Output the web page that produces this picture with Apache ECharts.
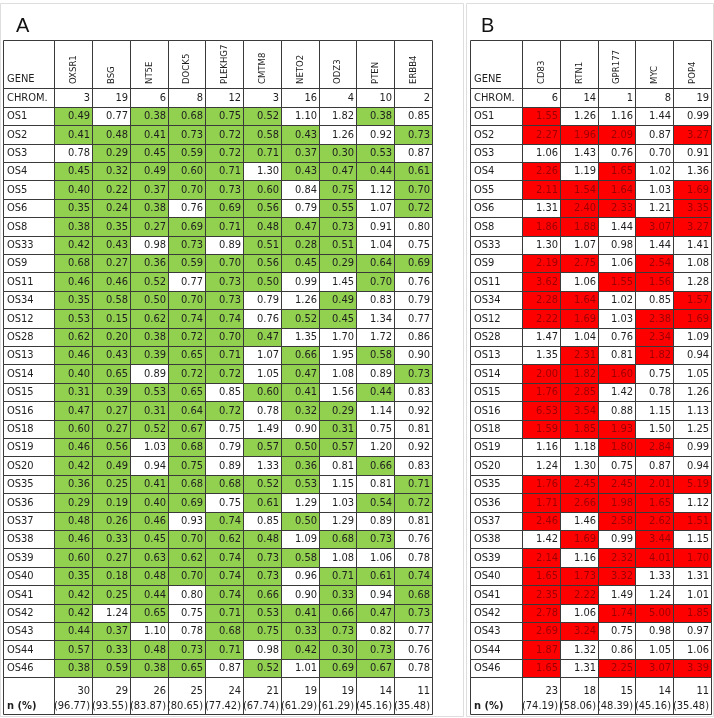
<!DOCTYPE html>
<html><head><meta charset="utf-8">
<script src="https://cdn.jsdelivr.net/npm/echarts@6/dist/echarts.min.js"></script>
<style>html,body{margin:0;padding:0;background:#fff}#c{width:714px;height:718px}</style>
</head><body><div id="c"></div>
<script>
// ---------------- DATA ----------------
const rowLabels = ['OS1','OS2','OS3','OS4','OS5','OS6','OS8','OS33','OS9','OS11','OS34','OS12','OS28','OS13','OS14','OS15','OS16','OS18','OS19','OS20','OS35','OS36','OS37','OS38','OS39','OS40','OS41','OS42','OS43','OS44','OS46'];

const genesA = ['OXSR1','BSG','NT5E','DOCK5','PLEKHG7','CMTM8','NETO2','ODZ3','PTEN','ERBB4'];
const chromA = [3,19,6,8,12,3,16,4,10,2];
const valuesA = [
 [0.49,0.77,0.38,0.68,0.75,0.52,1.10,1.82,0.38,0.85],
 [0.41,0.48,0.41,0.73,0.72,0.58,0.43,1.26,0.92,0.73],
 [0.78,0.29,0.45,0.59,0.72,0.71,0.37,0.30,0.53,0.87],
 [0.45,0.32,0.49,0.60,0.71,1.30,0.43,0.47,0.44,0.61],
 [0.40,0.22,0.37,0.70,0.73,0.60,0.84,0.75,1.12,0.70],
 [0.35,0.24,0.38,0.76,0.69,0.56,0.79,0.55,1.07,0.72],
 [0.38,0.35,0.27,0.69,0.71,0.48,0.47,0.73,0.91,0.80],
 [0.42,0.43,0.98,0.73,0.89,0.51,0.28,0.51,1.04,0.75],
 [0.68,0.27,0.36,0.59,0.70,0.56,0.45,0.29,0.64,0.69],
 [0.46,0.46,0.52,0.77,0.73,0.50,0.99,1.45,0.70,0.76],
 [0.35,0.58,0.50,0.70,0.73,0.79,1.26,0.49,0.83,0.79],
 [0.53,0.15,0.62,0.74,0.74,0.76,0.52,0.45,1.34,0.77],
 [0.62,0.20,0.38,0.72,0.70,0.47,1.35,1.70,1.72,0.86],
 [0.46,0.43,0.39,0.65,0.71,1.07,0.66,1.95,0.58,0.90],
 [0.40,0.65,0.89,0.72,0.72,1.05,0.47,1.08,0.89,0.73],
 [0.31,0.39,0.53,0.65,0.85,0.60,0.41,1.56,0.44,0.83],
 [0.47,0.27,0.31,0.64,0.72,0.78,0.32,0.29,1.14,0.92],
 [0.60,0.27,0.52,0.67,0.75,1.49,0.90,0.31,0.75,0.81],
 [0.46,0.56,1.03,0.68,0.79,0.57,0.50,0.57,1.20,0.92],
 [0.42,0.49,0.94,0.75,0.89,1.33,0.36,0.81,0.66,0.83],
 [0.36,0.25,0.41,0.68,0.68,0.52,0.53,1.15,0.81,0.71],
 [0.29,0.19,0.40,0.69,0.75,0.61,1.29,1.03,0.54,0.72],
 [0.48,0.26,0.46,0.93,0.74,0.85,0.50,1.29,0.89,0.81],
 [0.46,0.33,0.45,0.70,0.62,0.48,1.09,0.68,0.73,0.76],
 [0.60,0.27,0.63,0.62,0.74,0.73,0.58,1.08,1.06,0.78],
 [0.35,0.18,0.48,0.70,0.74,0.73,0.96,0.71,0.61,0.74],
 [0.42,0.25,0.44,0.80,0.74,0.66,0.90,0.33,0.94,0.68],
 [0.42,1.24,0.65,0.75,0.71,0.53,0.41,0.66,0.47,0.73],
 [0.44,0.37,1.10,0.78,0.68,0.75,0.33,0.73,0.82,0.77],
 [0.57,0.33,0.48,0.73,0.71,0.98,0.42,0.30,0.73,0.76],
 [0.38,0.59,0.38,0.65,0.87,0.52,1.01,0.69,0.67,0.78]
];
// 1 = highlighted (green) cell
const sigA = ['1011110010','1111111001','0111111110','1111101111','1111110101','1110110101','1111111100','1101011100','1111111111','1110110010','1111100100','1111101100','1111110000','1111101010','1101101001','1111011010','1111101100','1111000100','1101011100','1101001010','1111111001','1111010011','1110101000','1111110110','1111111000','1111110111','1110110101','1010111111','1100111100','1111101110','1111010110'];
const countA = [30,29,26,25,24,21,19,19,14,11];
const pctA = ['96.77','93.55','83.87','80.65','77.42','67.74','61.29','61.29','45.16','35.48'];

const genesB = ['CD83','RTN1','GPR177','MYC','POP4'];
const chromB = [6,14,1,8,19];
const valuesB = [
 [1.55,1.26,1.16,1.44,0.99],
 [2.27,1.96,2.09,0.87,3.27],
 [1.06,1.43,0.76,0.70,0.91],
 [2.26,1.19,1.65,1.02,1.36],
 [2.11,1.54,1.64,1.03,1.69],
 [1.31,2.40,2.33,1.21,3.35],
 [1.86,1.88,1.44,3.07,3.27],
 [1.30,1.07,0.98,1.44,1.41],
 [2.19,2.75,1.06,2.54,1.08],
 [3.62,1.06,1.55,1.56,1.28],
 [2.28,1.64,1.02,0.85,1.57],
 [2.22,1.69,1.03,2.38,1.69],
 [1.47,1.04,0.76,2.34,1.09],
 [1.35,2.31,0.81,1.82,0.94],
 [2.00,1.82,1.60,0.75,1.05],
 [1.76,2.85,1.42,0.78,1.26],
 [6.53,3.54,0.88,1.15,1.13],
 [1.59,1.85,1.93,1.50,1.25],
 [1.16,1.18,1.80,2.84,0.99],
 [1.24,1.30,0.75,0.87,0.94],
 [1.76,2.45,2.45,2.01,5.19],
 [1.71,2.66,1.98,1.65,1.12],
 [2.46,1.46,2.58,2.62,1.51],
 [1.42,1.69,0.99,3.44,1.15],
 [2.14,1.16,2.32,4.01,1.70],
 [1.65,1.73,3.32,1.33,1.31],
 [2.35,2.22,1.49,1.24,1.01],
 [2.78,1.06,1.74,5.00,1.85],
 [2.69,3.24,0.75,0.98,0.97],
 [1.87,1.32,0.86,1.05,1.06],
 [1.65,1.31,2.25,3.07,3.39]
];
// 1 = highlighted (red) cell
const sigB = ['10000','11101','00000','10100','11101','01101','11011','00000','11010','10110','11001','11011','00010','01010','11100','11000','11000','11100','00110','00000','11111','11110','10111','01010','10111','11100','11000','10111','11000','10000','10111'];
const countB = [23,18,15,14,11];
const pctB = ['74.19','58.06','48.39','45.16','35.48'];

// ---------------- STYLE / LAYOUT ----------------
const FONT = "'Liberation Sans Narrow','DejaVu Sans Condensed','Liberation Sans',sans-serif";
const LINE = '#3a3a3a';
const TXT = '#1e1e1e';
const VAL_FS = 11;
const TOP = 40, HDR_H = 48.3, BODY_H = 589, FOOT_H = 37;

const tables = [
  {genes: genesA, chrom: chromA, values: valuesA, sig: sigA, counts: countA, pct: pctA,
   left: 3.3, labelW: 51, colW: 37.77, hiFill: '#92D050', hiText: TXT},
  {genes: genesB, chrom: chromB, values: valuesB, sig: sigB, counts: countB, pct: pctB,
   left: 470, labelW: 52, colW: 37.8, hiFill: '#FF0000', hiText: '#9c0000'}
];

function box(api, xi, yi) {
  const c = api.coord([xi, yi]);
  const s = api.size([1, 1]);
  const x0 = Math.round(c[0] - s[0] / 2), x1 = Math.round(c[0] + s[0] / 2);
  const y0 = Math.round(c[1] - s[1] / 2), y1 = Math.round(c[1] + s[1] / 2);
  return {x0, x1, y0, y1};
}
function cellEls(b, fill) {
  return [
    {type: 'rect', z2: 0, shape: {x: b.x0, y: b.y0, width: b.x1 - b.x0, height: b.y1 - b.y0}, style: {fill: fill}},
    {type: 'rect', z2: 5, shape: {x: b.x0 + 0.5, y: b.y0 + 0.5, width: b.x1 - b.x0, height: b.y1 - b.y0}, style: {fill: null, stroke: LINE, lineWidth: 1}}
  ];
}
function txt(x, y, text, opt) {
  return {type: 'text', z2: 10, x: x, y: y, rotation: opt.rotation || 0,
    style: Object.assign({text: text, fill: TXT, fontSize: VAL_FS, fontFamily: FONT, align: 'right', verticalAlign: 'middle'}, opt.style || {})};
}

const grid = [], xAxis = [], yAxis = [], series = [];
const bodyCats = ['CHROM.'].concat(rowLabels);

tables.forEach(function (t) {
  const n = t.genes.length;
  const dataLeft = t.left + t.labelW, dataW = t.colW * n;
  const bands = [
    {key: 'hdr', top: TOP, h: HDR_H, cats: ['h']},
    {key: 'body', top: TOP + HDR_H, h: BODY_H, cats: bodyCats},
    {key: 'foot', top: TOP + HDR_H + BODY_H, h: FOOT_H, cats: ['f']}
  ];
  bands.forEach(function (band) {
    // label column grid
    const gl = grid.length;
    grid.push({left: t.left, top: band.top, width: t.labelW, height: band.h, containLabel: false});
    xAxis.push({gridIndex: gl, type: 'category', data: ['label'], show: false});
    yAxis.push({gridIndex: gl, type: 'category', data: band.cats, inverse: true, show: false});
    // data columns grid
    const gd = grid.length;
    grid.push({left: dataLeft, top: band.top, width: dataW, height: band.h, containLabel: false});
    xAxis.push({gridIndex: gd, type: 'category', data: t.genes, show: false});
    yAxis.push({gridIndex: gd, type: 'category', data: band.cats, inverse: true, show: false});

    if (band.key === 'hdr') {
      series.push({type: 'custom', xAxisIndex: gl, yAxisIndex: gl, silent: true, data: [[0, 0]],
        renderItem: function (p, api) {
          const b = box(api, 0, 0);
          return {type: 'group', children: cellEls(b, '#fff').concat([
            txt(b.x0 + 4, b.y1 - 9, 'GENE', {style: {align: 'left'}})])};
        }});
      series.push({type: 'custom', xAxisIndex: gd, yAxisIndex: gd, silent: true,
        data: t.genes.map(function (g, i) { return [i, 0]; }),
        renderItem: function (p, api) {
          const i = api.value(0);
          const b = box(api, i, 0);
          return {type: 'group', children: cellEls(b, '#fff').concat([
            txt((b.x0 + b.x1) / 2 + 0.5, b.y1 - 4, t.genes[i], {rotation: Math.PI / 2, style: {align: 'left', fontSize: 9.5}})])};
        }});
    } else if (band.key === 'body') {
      series.push({type: 'custom', xAxisIndex: gl, yAxisIndex: gl, silent: true,
        data: bodyCats.map(function (c, j) { return [0, j]; }),
        renderItem: function (p, api) {
          const j = api.value(1);
          const b = box(api, 0, j);
          return {type: 'group', children: cellEls(b, '#fff').concat([
            txt(b.x0 + 4, (b.y0 + b.y1) / 2 + 0.5, bodyCats[j], {style: {align: 'left'}})])};
        }});
      const cells = [];
      t.chrom.forEach(function (c, i) { cells.push([i, 0]); });
      t.values.forEach(function (row, r) { row.forEach(function (v, i) { cells.push([i, r + 1]); }); });
      series.push({type: 'custom', xAxisIndex: gd, yAxisIndex: gd, silent: true, data: cells,
        renderItem: function (p, api) {
          const i = api.value(0), j = api.value(1);
          const b = box(api, i, j);
          let text, hi = false;
          if (j === 0) { text = String(t.chrom[i]); }
          else { text = t.values[j - 1][i].toFixed(2); hi = t.sig[j - 1].charAt(i) === '1'; }
          return {type: 'group', children: cellEls(b, hi ? t.hiFill : '#fff').concat([
            txt(b.x1 - 2, (b.y0 + b.y1) / 2 + 0.5, text, {style: {fill: hi ? t.hiText : TXT}})])};
        }});
    } else {
      series.push({type: 'custom', xAxisIndex: gl, yAxisIndex: gl, silent: true, data: [[0, 0]],
        renderItem: function (p, api) {
          const b = box(api, 0, 0);
          return {type: 'group', children: cellEls(b, '#fff').concat([
            txt(b.x0 + 4, b.y0 + 29.5, 'n (%)', {style: {align: 'left', fontWeight: 'bold'}})])};
        }});
      series.push({type: 'custom', xAxisIndex: gd, yAxisIndex: gd, silent: true,
        data: t.counts.map(function (c, i) { return [i, 0]; }),
        renderItem: function (p, api) {
          const i = api.value(0);
          const b = box(api, i, 0);
          return {type: 'group', children: cellEls(b, '#fff').concat([
            txt(b.x1 - 2, b.y0 + 14.5, String(t.counts[i]), {}),
            txt(b.x1 - 2, b.y0 + 29.5, '(' + t.pct[i] + ')', {})])};
        }});
    }
  });
});

const chart = echarts.init(document.getElementById('c'), null, {renderer: 'canvas'});
chart.setOption({
  animation: false,
  backgroundColor: '#fff',
  title: [
    {text: 'A', left: 11, top: 11, textStyle: {fontSize: 20, fontWeight: 'normal', color: '#111', fontFamily: "'Liberation Sans',sans-serif"}},
    {text: 'B', left: 476, top: 11, textStyle: {fontSize: 20, fontWeight: 'normal', color: '#111', fontFamily: "'Liberation Sans',sans-serif"}}
  ],
  graphic: [
    {type: 'rect', silent: true, z: -1, shape: {x: 0.5, y: 3.5, width: 463, height: 713}, style: {fill: null, stroke: '#dedede', lineWidth: 1}},
    {type: 'rect', silent: true, z: -1, shape: {x: 466.5, y: 3.5, width: 247, height: 713}, style: {fill: null, stroke: '#dedede', lineWidth: 1}}
  ],
  grid: grid, xAxis: xAxis, yAxis: yAxis, series: series
});
</script>
</body></html>
